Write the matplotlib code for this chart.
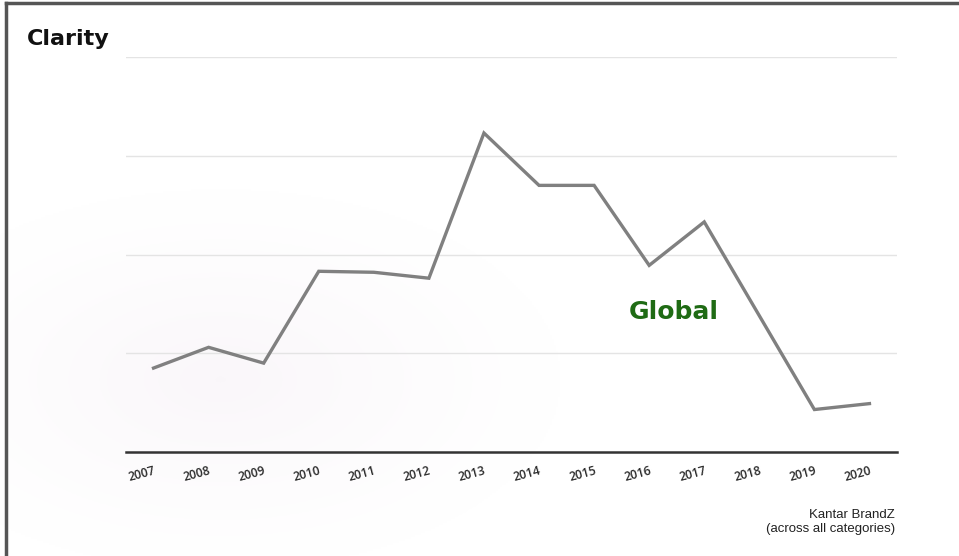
import numpy as np
import matplotlib
matplotlib.use('Agg')
from matplotlib import pyplot as plt

years = ['2007', '2008', '2009', '2010', '2011', '2012', '2013',
         '2014', '2015', '2016', '2017', '2018', '2019', '2020']
clarity = [0.85, 1.06, 0.90, 1.83, 1.82, 1.76, 3.23,
           2.70, 2.70, 1.89, 2.33, 1.38, 0.43, 0.49]

fig = plt.figure(figsize=(9.59, 5.56), dpi=100)

# faint pinkish glow in the lower left of the slide
bg = fig.add_axes([0, 0, 1, 1], zorder=0)
gx, gy = np.meshgrid(np.linspace(0, 959, 480), np.linspace(0, 556, 278))
d = np.sqrt(((gx - 220) / 340) ** 2 + ((gy - 380) / 190) ** 2)
glow = np.clip(1 - d, 0, 1) ** 1.2
img = np.ones((278, 480, 3))
img[..., 0] -= 0.02 * glow
img[..., 1] -= 0.032 * glow
img[..., 2] -= 0.02 * glow
bg.imshow(img, extent=[0, 959, 556, 0], aspect='auto')
bg.set_xlim(0, 959)
bg.set_ylim(556, 0)
bg.axis('off')
# slide frame, top and left edge
bg.plot([6, 959], [3, 3], color='#555555', lw=2.5)
bg.plot([6, 6], [3, 556], color='#555555', lw=2.5)

ax = fig.add_axes([126 / 959, 1 - 452 / 556, 771 / 959, 395 / 556], zorder=1)
ax.patch.set_alpha(0)
x = np.arange(len(years))
ax.plot(x, clarity, color='#808080', lw=2.4, solid_joinstyle='miter')
ax.set_xlim(-0.5, len(years) - 0.5)
ax.set_ylim(0, 4)
ax.set_yticks([1, 2, 3, 4])
ax.yaxis.grid(True, color='#e4e4e4', lw=1)
ax.set_axisbelow(True)
ax.tick_params(axis='y', left=False, labelleft=False)
ax.tick_params(axis='x', bottom=False, pad=5)
ax.set_xticks(x)
ax.set_xticklabels(years, rotation=15, fontsize=8.7, color='#2a2a2a',
                   family='Open Sans', fontweight='semibold',
                   ha='right', rotation_mode='anchor')
for s in ['top', 'right', 'left']:
    ax.spines[s].set_visible(False)
ax.spines['bottom'].set_color('#333333')
ax.spines['bottom'].set_linewidth(1.8)

fig.text(27 / 959, 1 - 39 / 556, 'Clarity', fontsize=16, fontweight='bold',
         family='DejaVu Sans', color='#111111', va='center', ha='left')
ax.text(9.45, 1.42, 'Global', fontsize=18, fontweight='bold',
        family='DejaVu Sans', color='#1f6b14', ha='center', va='center')
fig.text(895 / 959, 1 - 522 / 556, 'Kantar BrandZ\n(across all categories)',
         fontsize=9.5, family='Liberation Sans', color='#222222',
         ha='right', va='center', linespacing=1.3)

fig.savefig('out.png', dpi=100)
